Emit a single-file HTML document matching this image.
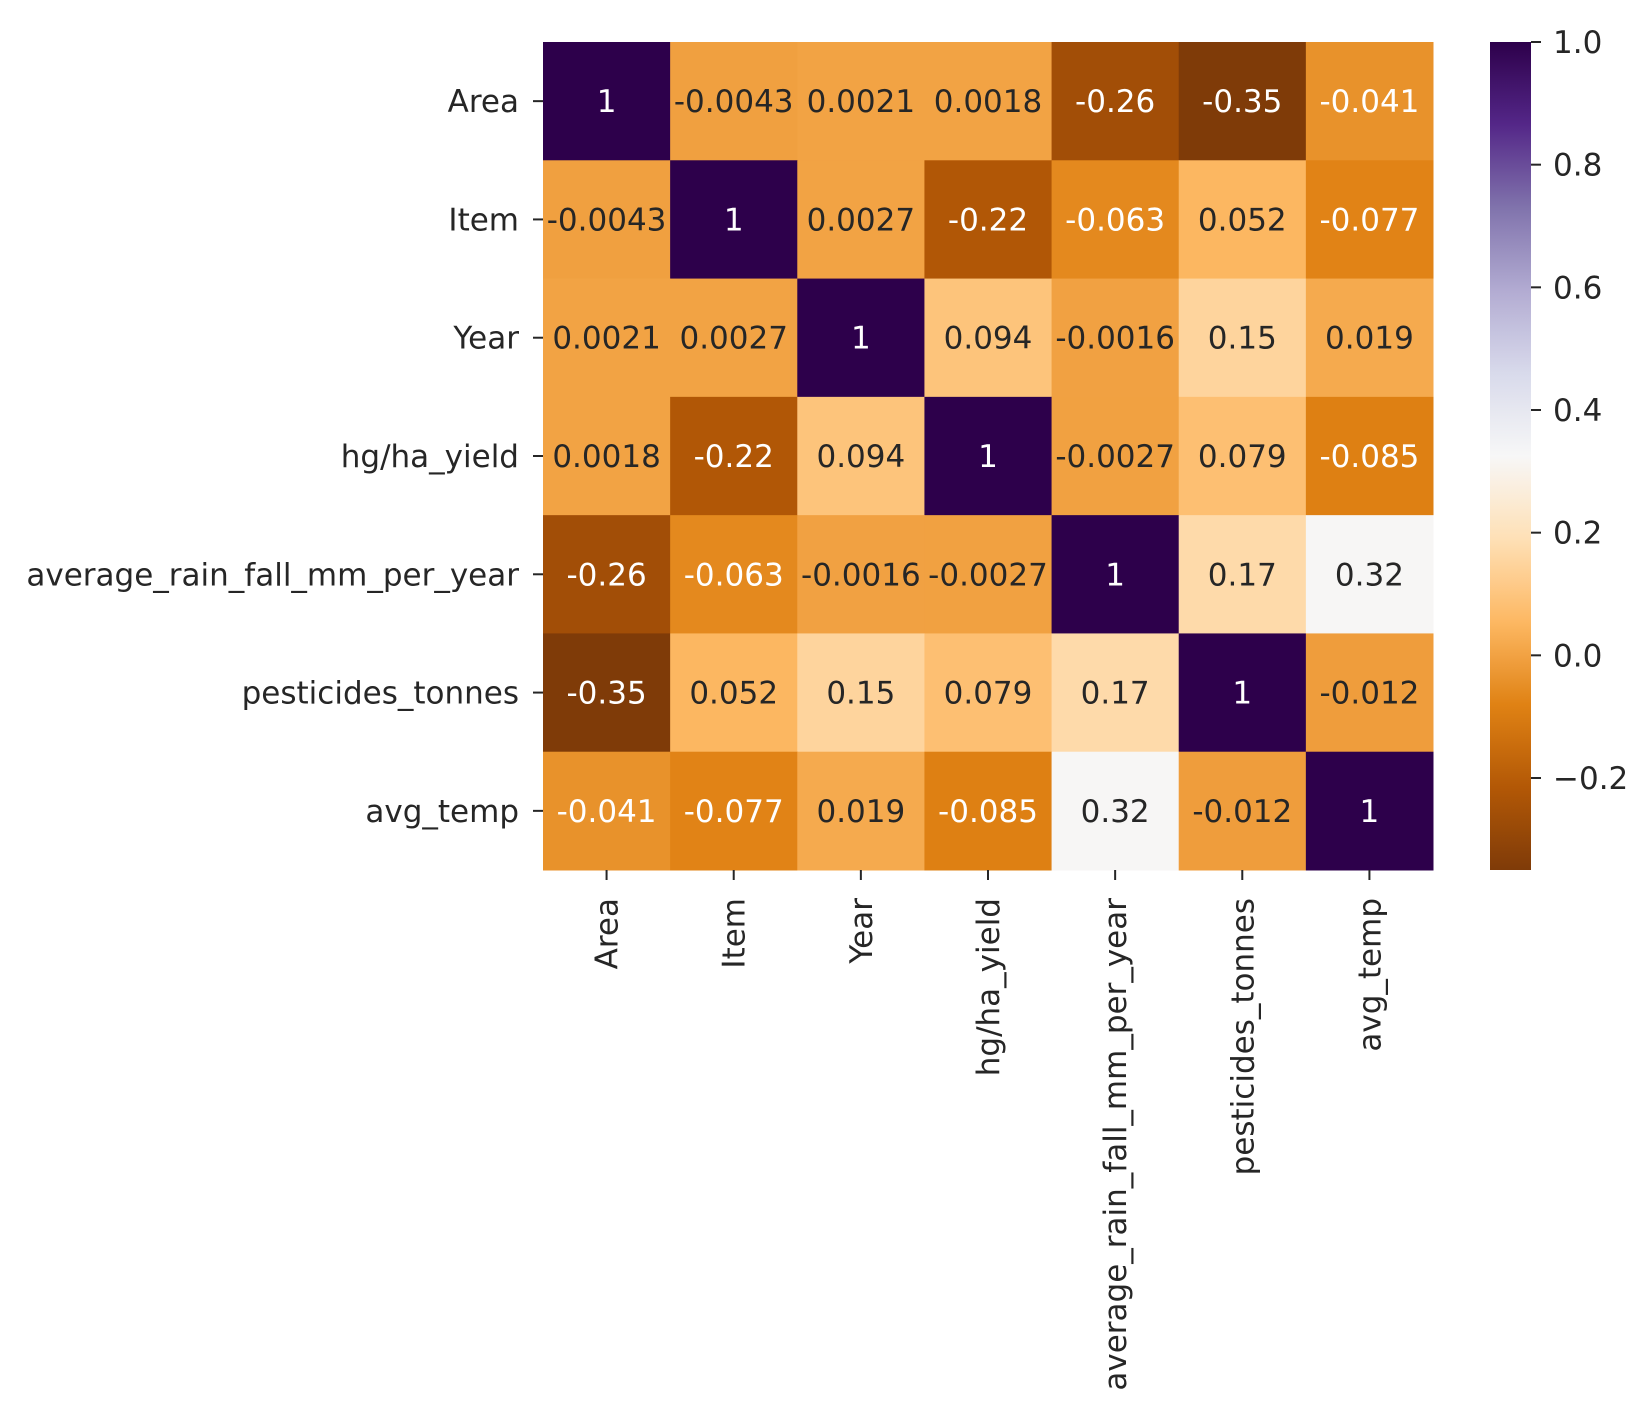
<!DOCTYPE html>
<html><head><meta charset="utf-8"><style>
html,body{margin:0;padding:0;background:#fff;}
svg{display:block;font-family:"DejaVu Sans","Liberation Sans",sans-serif;}
</style></head><body>
<svg id="chart" width="1650" height="1424" viewBox="0 0 1650 1424">
<defs><linearGradient id="cbgrad" x1="0" y1="1" x2="0" y2="0"></linearGradient></defs>
<g id="cells"></g>
<g id="ylab"></g>
<g id="xlab"></g>
<g id="cbar"></g>
</svg>
<script>
const labels = ["Area","Item","Year","hg/ha_yield","average_rain_fall_mm_per_year","pesticides_tonnes","avg_temp"];
const row0 = [1,-0.0043,0.0021,0.0018,-0.26,-0.35,-0.041];
const row1 = [-0.0043,1,0.0027,-0.22,-0.063,0.052,-0.077];
const row2 = [0.0021,0.0027,1,0.094,-0.0016,0.15,0.019];
const row3 = [0.0018,-0.22,0.094,1,-0.0027,0.079,-0.085];
const row4 = [-0.26,-0.063,-0.0016,-0.0027,1,0.17,0.32];
const row5 = [-0.35,0.052,0.15,0.079,0.17,1,-0.012];
const row6 = [-0.041,-0.077,0.019,-0.085,0.32,-0.012,1];
const matrix = [row0,row1,row2,row3,row4,row5,row6];
const cbTicks = [-0.2,0.0,0.2,0.4,0.6,0.8,1.0];
const vmin = -0.35, vmax = 1.0;

const NS="http://www.w3.org/2000/svg";
const X0=543, X1=1433, Y0=42, Y1=870;
const FS=31;
const cw=(X1-X0)/labels.length, ch=(Y1-Y0)/labels.length;
const stops=["#7f3b08","#b35806","#e08214","#fdb863","#fee0b6","#f7f7f7","#d8daeb","#b2abd2","#8073ac","#542788","#2d004b"];
function hex(h){return [1,3,5].map(i=>parseInt(h.substr(i,2),16));}
function cmap(v){let t=Math.max(0,Math.min(1,(v-vmin)/(vmax-vmin)))*(stops.length-1);
 let i=Math.min(Math.floor(t),stops.length-2),f=t-i,a=hex(stops[i]),b=hex(stops[i+1]);
 return a.map((c,k)=>Math.round(c+(b[k]-c)*f));}
function lum(c){const l=c.map(x=>{x/=255;return x<=0.03928?x/12.92:Math.pow((x+0.055)/1.055,2.4);});return 0.2126*l[0]+0.7152*l[1]+0.0722*l[2];}
function el(tag,attrs,parent){const e=document.createElementNS(NS,tag);for(const k in attrs)e.setAttribute(k,attrs[k]);parent.appendChild(e);return e;}
function fmt(v){return String(v);}
const cells=document.getElementById('cells');
matrix.forEach((row,r)=>row.forEach((v,c)=>{
 const col=cmap(v);
 const rect=el('rect',{x:X0+c*cw,y:Y0+r*ch,width:cw+0.5,height:ch+0.5,fill:`rgb(${col})`},cells);
 
 
 const t=el('text',{x:X0+(c+0.5)*cw,y:Y0+(r+0.5)*ch+11,'text-anchor':'middle','font-size':FS,fill:lum(col)>0.408?'#262626':'#ffffff'},cells);
 t.textContent=fmt(v);
 
 
}));
const yl=document.getElementById('ylab'), xl=document.getElementById('xlab');
labels.forEach((lab,i)=>{
 const yc=Y0+(i+0.5)*ch;
 el('line',{x1:X0-10,x2:X0,y1:yc,y2:yc,stroke:'#262626','stroke-width':2},yl);
 const t=el('text',{x:X0-24,y:yc+11,'text-anchor':'end','font-size':FS,fill:'#262626'},yl);
 t.textContent=lab;
 
 
 const xc=X0+(i+0.5)*cw;
 el('line',{x1:xc,x2:xc,y1:Y1,y2:Y1+10,stroke:'#262626','stroke-width':2},xl);
 const tx=el('text',{x:0,y:0,'text-anchor':'end','font-size':FS,fill:'#262626',transform:`translate(${xc+11},${Y1+28}) rotate(-90)`},xl);
 tx.textContent=lab;
 
 
});
const grad=document.getElementById('cbgrad');
for(let k=0;k<=40;k++){const v=vmin+(vmax-vmin)*k/40;el('stop',{offset:k/40,'stop-color':`rgb(${cmap(v)})`},grad);}
const cb=document.getElementById('cbar');
const CX0=1490,CX1=1531;
const cbr=el('rect',{x:CX0,y:Y0,width:CX1-CX0,height:Y1-Y0,fill:'url(#cbgrad)'},cb);


function cy(v){return Y1-(v-vmin)/(vmax-vmin)*(Y1-Y0);}
cbTicks.forEach(v=>{
 const y=cy(v);
 el('line',{x1:CX1,x2:CX1+10,y1:y,y2:y,stroke:'#262626','stroke-width':2},cb);
 const t=el('text',{x:CX1+22,y:y+11,'font-size':FS,fill:'#262626'},cb);
 t.textContent=(v<0?'\u2212':'')+Math.abs(v).toFixed(1);
 
 
});
</script>
</body></html>
